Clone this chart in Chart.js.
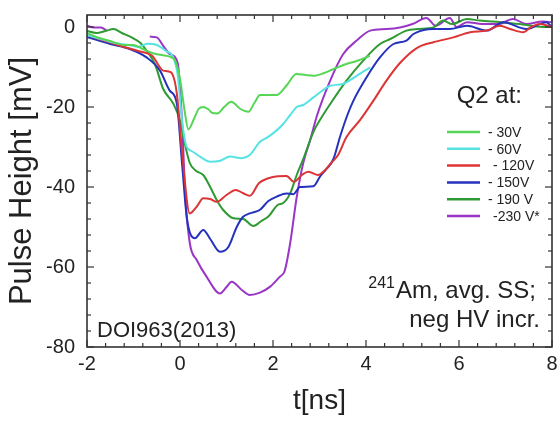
<!DOCTYPE html>
<html><head><meta charset="utf-8">
<script src="https://cdn.jsdelivr.net/npm/chart.js@4.4.0/dist/chart.umd.min.js"></script>
<style>html,body{margin:0;padding:0;background:#fff}</style>
</head><body>
<canvas id="c" width="560" height="422" style="width:560px;height:422px;display:block"></canvas>
<script>
// ---- data (t in ns, pulse height in mV) ----
const seriesLabels = ['- 30V', '- 60V', ' - 120V', '- 150V', '- 190 V', '-230 V*'];
const xTicks = [-2, 0, 2, 4, 6, 8];
const yTicks = [-80, -60, -40, -20, 0];

const t30 = [-2.0,-1.8,-1.5,-1.2,-1.0,-0.8,-0.6,-0.4,-0.2,-0.1,0.0,0.1,0.18,0.3,0.4,0.5,0.6,0.7,0.8,0.95,1.1,1.3,1.47,1.6,1.72,1.9,2.08,2.3,2.5,2.7,2.86,3.1,3.3,3.58,3.8,4.08];
const v30 = [-1.5,-2.5,-3.5,-4.5,-4.5,-5.5,-6.5,-7,-7.5,-8.5,-13,-21,-25.6,-23,-20.5,-20,-20.5,-21.5,-21.6,-20,-18.7,-20.5,-21.2,-19,-17,-17,-17,-14.5,-11.75,-12,-12.2,-11.5,-10.5,-9.25,-8.5,-7.2];

const t60 = [-2.0,-1.7,-1.4,-1.1,-0.9,-0.7,-0.5,-0.3,-0.15,-0.05,0.05,0.14,0.25,0.43,0.65,0.85,1.08,1.33,1.5,1.72,1.85,2.0,2.2,2.37,2.51,2.65,2.87,3.05,3.23,3.5,3.8,4.09];
const v60 = [-2,-3,-4,-4.5,-5,-4.2,-4.5,-6,-7.5,-12,-24,-29.9,-31,-32.4,-33.7,-33.5,-32.4,-32.8,-32,-28.7,-27.8,-26.6,-24.5,-22,-20,-19.5,-17.6,-16,-14.7,-14.25,-12.2,-10.1];

const t120 = [-2.0,-1.6,-1.2,-0.9,-0.6,-0.36,-0.2,-0.07,0.05,0.21,0.36,0.5,0.65,0.79,1.0,1.2,1.35,1.5,1.7,1.9,2.1,2.29,2.45,2.62,2.76,2.97,3.1,3.25,3.4,3.58,3.87,4.16,4.44,4.73,5.1,5.45,5.88,6.24,6.6,6.88,7.1,7.38,7.55,7.74,8.0];
const v120 = [-2,-3.5,-5,-6,-7.2,-10.9,-11.3,-16.5,-32,-46.6,-44.9,-42.8,-43,-43.7,-42,-40.75,-41.5,-42.2,-39,-37.8,-37.3,-37.25,-38.7,-37,-36.2,-37,-36,-34,-32,-27.5,-23.3,-18.4,-13.4,-9,-5.2,-3.8,-2.6,-1.3,-0.9,0.3,-0.5,-1.3,0,0.75,0];

const t150 = [-2.0,-1.5,-1.08,-0.72,-0.43,-0.22,-0.07,0.05,0.15,0.32,0.5,0.65,0.86,1.04,1.22,1.35,1.5,1.72,1.9,2.08,2.29,2.44,2.58,2.87,3.01,3.15,3.3,3.44,3.6,3.73,4.01,4.3,4.59,4.87,5.02,5.45,5.8,6.17,6.6,6.95,7.45,7.88,8.0];
const v150 = [-2.5,-4.25,-5.5,-7.6,-10.9,-15.9,-19,-35,-48,-52.8,-50.75,-53,-56.2,-55,-50,-47.5,-46.6,-45.7,-43.5,-42.4,-41.6,-41.8,-40,-39.8,-37.4,-35.5,-33,-27.5,-22,-18.4,-12.6,-7.6,-4.25,-3.4,-1.75,-0.5,-0.5,0.3,-0.9,1.2,-0.5,1.2,0];

const t190 = [-2.0,-1.8,-1.6,-1.43,-1.25,-1.04,-0.85,-0.72,-0.54,-0.36,-0.14,0.0,0.07,0.21,0.35,0.5,0.65,0.79,0.93,1.15,1.36,1.58,1.75,1.9,2.1,2.22,2.37,2.51,2.65,2.87,3.05,3.23,3.58,3.94,4.3,4.52,4.87,5.1,5.45,5.66,5.85,6.17,6.45,6.9,7.3,7.8,8.0];
const v190 = [-1,-1.5,-1,-0.5,-1.5,-2.6,-4,-5.9,-9.25,-15.5,-19.25,-23.4,-27.4,-34,-36,-37,-40,-43.25,-45.75,-47.8,-48,-49.75,-48.5,-47.4,-44.5,-44,-41.6,-37,-33,-26.2,-22.5,-19.25,-13.4,-8.4,-4.25,-3,-0.9,-0.5,-0.1,1.6,0.75,2,1.6,1.2,0.75,0,0];

const t230 = [-2.0,-1.85,-1.7,-1.58,-1.0,-0.65,-0.5,-0.36,-0.22,-0.05,0.05,0.11,0.21,0.36,0.57,0.86,1.0,1.11,1.33,1.5,1.72,1.94,2.15,2.25,2.37,2.51,2.65,2.8,2.95,3.23,3.51,3.8,4.09,4.44,4.73,5.0,5.3,5.5,5.8,5.95,6.17,6.5,6.85,7.16,7.45,7.8,8.0];
const v230 = [0.3,-0.1,-0.1,-0.9,null,-2.4,-2.6,-4.7,-6.75,-9,-25,-41.6,-54,-58.25,-62.4,-66.6,-65,-63.7,-65.75,-67,-66.4,-64.9,-62.4,-61,-54,-42.5,-34,-28.25,-22,-13.4,-6.75,-3.4,-0.9,-0.5,-0.1,0.75,2.25,0.3,2.25,0,1.2,0.75,0.75,2,0.75,1.4,1.2];

const colors = ['#55d655', '#55e3e3', '#dd3535', '#2432bd', '#2f9a34', '#9a36c6'];
const tSets = [t30, t60, t120, t150, t190, t230];
const vSets = [v30, v60, v120, v150, v190, v230];

const FONT = "'Liberation Sans', Arial, Helvetica, sans-serif";

const datasets = tSets.map((ts, i) => ({
  label: seriesLabels[i],
  data: ts.map((t, k) => ({ x: t, y: vSets[i][k] })),
  borderColor: colors[i],
  backgroundColor: colors[i],
  borderWidth: 2,
  pointRadius: 0,
  tension: 0.4,
  cubicInterpolationMode: 'monotone',
  spanGaps: false,
  fill: false
}));

const framePlugin = {
  id: 'frame',
  afterDatasetsDraw(chart) {
    const { ctx, chartArea: a, scales: { x, y } } = chart;
    ctx.save();
    ctx.strokeStyle = '#333';
    ctx.lineWidth = 1.2;
    const seg = (x1, y1, x2, y2) => { ctx.beginPath(); ctx.moveTo(x1, y1); ctx.lineTo(x2, y2); ctx.stroke(); };
    for (let i = 0; i <= 25; i++) {
      const v = -2 + i * 0.4;
      const px = x.getPixelForValue(v);
      const major = Math.abs(v / 2 - Math.round(v / 2)) < 1e-6;
      const L = major ? 7 : 4;
      seg(px, a.bottom, px, a.bottom - L);
      seg(px, a.top, px, a.top + L);
    }
    for (let v = -80; v <= 0; v += 4) {
      const py = y.getPixelForValue(v);
      const major = v % 20 === 0;
      const L = major ? 7 : 4;
      seg(a.left, py, a.left + L, py);
      seg(a.right, py, a.right - L, py);
    }
    ctx.lineWidth = 1.6;
    ctx.strokeRect(a.left, a.top, a.right - a.left, a.bottom - a.top);

    // legend
    ctx.fillStyle = '#222';
    ctx.font = '24px ' + FONT;
    ctx.textAlign = 'right';
    ctx.textBaseline = 'alphabetic';
    ctx.fillText('Q2 at:', 522, 103);
    ctx.font = '14px ' + FONT;
    ctx.textAlign = 'left';
    ctx.textBaseline = 'middle';
    for (let i = 0; i < seriesLabels.length; i++) {
      const yy = 132 + i * 16.8;
      ctx.strokeStyle = colors[i];
      ctx.lineWidth = 2.5;
      seg(447, yy, 480, yy);
      ctx.fillStyle = '#222';
      const off = (i === 2 || i === 5) ? 5 : 0;
      ctx.fillText(seriesLabels[i].trim(), 488 + off, yy + 1);
    }

    // annotations
    ctx.textBaseline = 'alphabetic';
    ctx.textAlign = 'right';
    ctx.font = '24px ' + FONT;
    ctx.fillText('Am, avg. SS;', 536, 298);
    const w = ctx.measureText('Am, avg. SS;').width;
    ctx.font = '16px ' + FONT;
    ctx.fillText('241', 536 - w - 1, 288);
    ctx.font = '24px ' + FONT;
    ctx.fillText('neg HV incr.', 540, 327);
    ctx.textAlign = 'left';
    ctx.font = '22px ' + FONT;
    ctx.fillText('DOI963(2013)', 97, 337);
    ctx.restore();
  }
};

new Chart(document.getElementById('c'), {
  type: 'line',
  data: { datasets },
  options: {
    responsive: false,
    animation: false,
    devicePixelRatio: 1,
    layout: { padding: { left: 0, right: 8, top: 15, bottom: 0 } },
    plugins: { legend: { display: false }, tooltip: { enabled: false } },
    scales: {
      x: {
        type: 'linear', min: -2, max: 8,
        afterBuildTicks: s => { s.ticks = xTicks.map(v => ({ value: v })); },
        afterFit: s => { s.height = 75; s.paddingLeft = 0; s.paddingRight = 0; },
        grid: { display: false, drawTicks: false },
        border: { display: false },
        ticks: { color: '#222', font: { size: 20, family: FONT }, padding: 5, maxRotation: 0 },
        title: { display: true, text: 't[ns]', color: '#222', font: { size: 28, family: FONT }, padding: { top: 4 } }
      },
      y: {
        type: 'linear', min: -80, max: 3,
        afterBuildTicks: s => { s.ticks = yTicks.map(v => ({ value: v })); },
        afterFit: s => { s.width = 87; s.paddingTop = 0; s.paddingBottom = 0; },
        grid: { display: false, drawTicks: false },
        border: { display: false },
        ticks: { color: '#222', font: { size: 20, family: FONT }, padding: 12 },
        title: { display: true, text: 'Pulse Height [mV]', color: '#222', font: { size: 31, family: FONT }, padding: { bottom: 0 } }
      }
    }
  },
  plugins: [framePlugin]
});
</script>
</body></html>
